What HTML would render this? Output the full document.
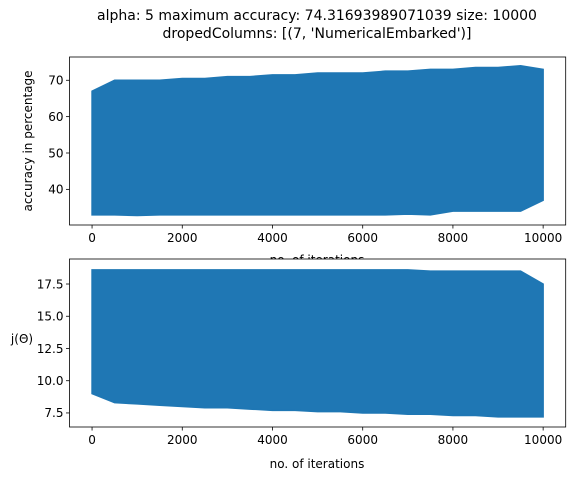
<!DOCTYPE html>
<html><head><meta charset="utf-8"><style>
body{margin:0;background:#fff;font-family:"Liberation Sans","DejaVu Sans",sans-serif;}
svg text{font-family:"DejaVu Sans","Liberation Sans",sans-serif;fill:#000;}
</style></head><body>
<svg id="fig" width="581" height="480"></svg>
<script>
const iterations=[0,500,1000,1500,2000,2500,3000,3500,4000,4500,5000,5500,6000,6500,7000,7500,8000,8500,9000,9500,10000];
const accUpper=[67,70,70,70,70.5,70.5,71,71,71.5,71.5,72,72,72,72.5,72.5,73,73,73.5,73.5,74,73];
const accLower=[33,33,32.8,33,33,33,33,33,33,33,33,33,33,33,33.2,33,34,34,34,34,37];
const jUpper=[18.6,18.6,18.6,18.6,18.6,18.6,18.6,18.6,18.6,18.6,18.6,18.6,18.6,18.6,18.6,18.5,18.5,18.5,18.5,18.5,17.5];
const jLower=[9,8.3,8.2,8.1,8,7.9,7.9,7.8,7.7,7.7,7.6,7.6,7.5,7.5,7.4,7.4,7.3,7.3,7.2,7.2,7.2];
const xTicks=[0,2000,4000,6000,8000,10000];
const accTicks=[40,50,60,70];
const jTicks=[7.5,10.0,12.5,15.0,17.5];
const NS="http://www.w3.org/2000/svg";
const svg=document.getElementById('fig');
function el(t,a,p){const e=document.createElementNS(NS,t);for(const k in a)e.setAttribute(k,a[k]);(p||svg).appendChild(e);return e;}
function txt(s,a,p){const e=el('text',a,p);e.textContent=s;return e;}
const L=69.5,R=565.7;
const xs=v=>L+(v+500)/(11000)*(R-L);
function panel(name,top,bot,ymin,ymax,upper,lower,yt,fmt){
  const g=el('g',{});
  
  
  el('rect',{x:L,y:top,width:R-L,height:bot-top,fill:'#fff'},g);
  const ys=v=>bot-(v-ymin)/(ymax-ymin)*(bot-top);
  let pts=iterations.map((x,i)=>xs(x)+','+ys(upper[i]));
  pts=pts.concat(iterations.map((x,i)=>xs(x)+','+ys(lower[i])).reverse());
  const band=el('polygon',{points:pts.join(' '),fill:'#1f77b4',stroke:'#1f77b4','stroke-width':1.5},g);
  
  
  el('rect',{x:L,y:top,width:R-L,height:bot-top,fill:'none',stroke:'#000','stroke-width':0.8},g);
  xTicks.forEach(t=>{const x=xs(t);el('line',{x1:x,x2:x,y1:bot,y2:bot+3.5,stroke:'#000','stroke-width':0.8},g);
    const tl=txt(String(t),{x:x,y:bot+17,'font-size':12,'text-anchor':'middle'},g);
    });
  yt.forEach(t=>{const y=ys(t);el('line',{x1:L,x2:L-3.5,y1:y,y2:y,stroke:'#000','stroke-width':0.8},g);
    const tl=txt(fmt(t),{x:L-6,y:y+4.3,'font-size':12,'text-anchor':'end'},g);
    });
  return g;
}
panel('accuracy-plot',57,225,30.2,76.4,accUpper,accLower,accTicks,t=>String(t));
let b=txt('no. of iterations',{x:317,y:264,'font-size':12,'text-anchor':'middle'});

panel('cost-plot',259,427,6.41,19.44,jUpper,jLower,jTicks,t=>t.toFixed(1));
let t1=txt('alpha: 5 maximum accuracy: 74.31693989071039 size: 10000',{x:317,y:20,'font-size':14,'text-anchor':'middle'});

let t2=txt("dropedColumns: [(7, 'NumericalEmbarked')]",{x:317,y:38,'font-size':14,'text-anchor':'middle'});

let a=txt('accuracy in percentage',{x:0,y:0,'font-size':12,'text-anchor':'middle',transform:'translate(32,141) rotate(-90)'});

let c=txt('j(Θ)',{x:22,y:343,'font-size':12,'text-anchor':'middle'});

let d=txt('no. of iterations',{x:317,y:468,'font-size':12,'text-anchor':'middle'});

</script>
</body></html>
